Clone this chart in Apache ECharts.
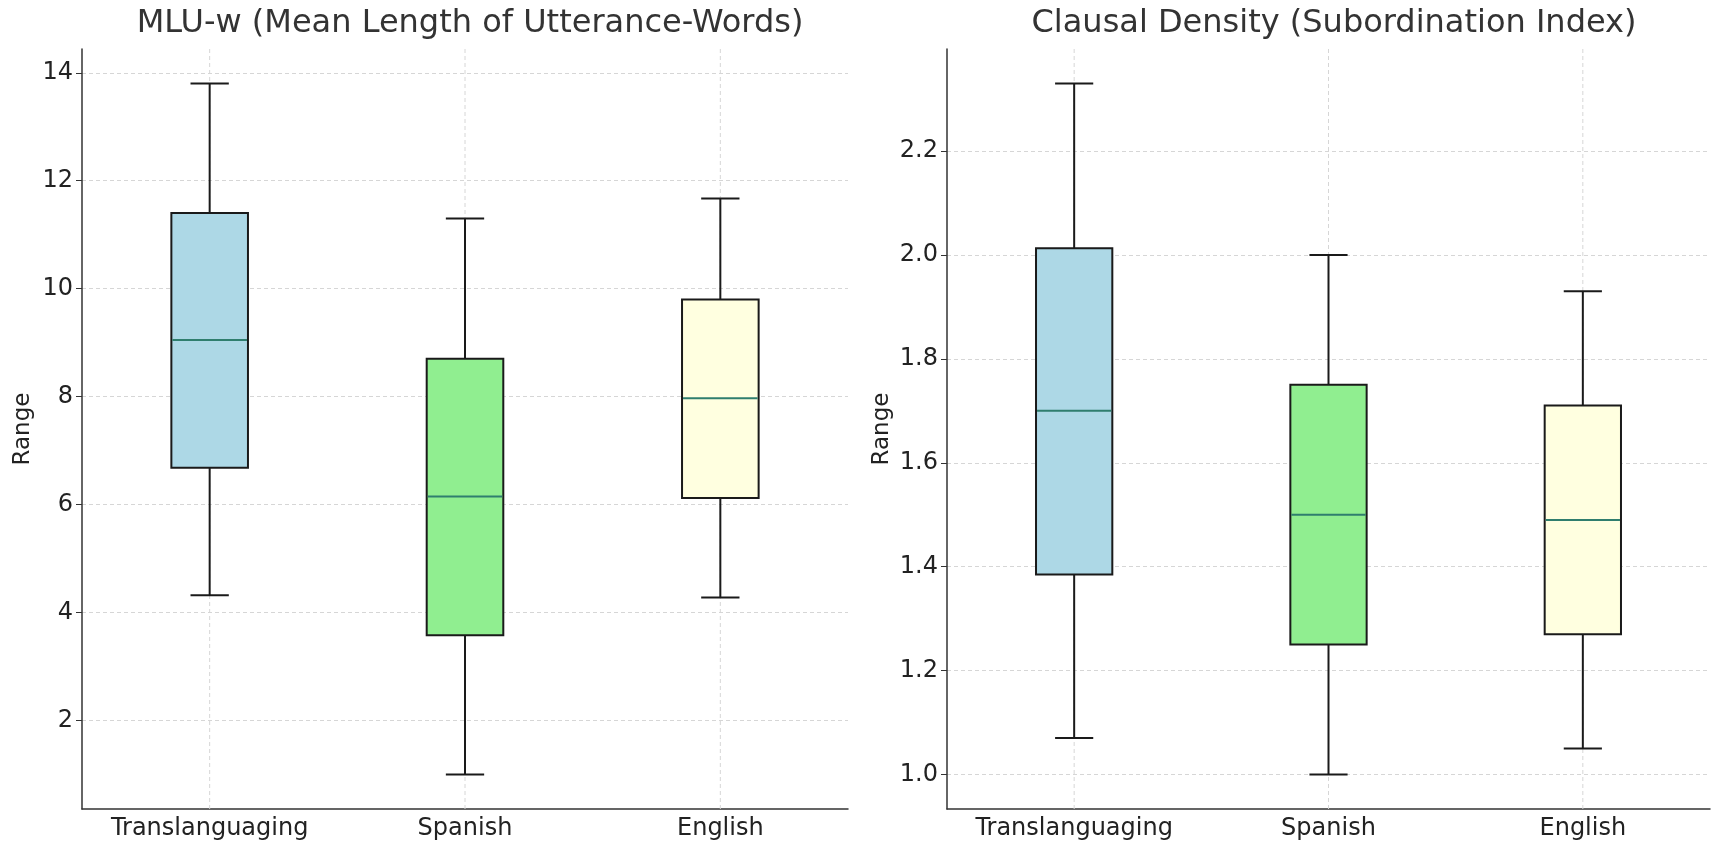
<!DOCTYPE html>
<html>
<head>
<meta charset="utf-8">
<script src="https://cdn.jsdelivr.net/npm/echarts@6/dist/echarts.min.js"></script>
<style>
  html, body { margin: 0; padding: 0; background: #fff; }
  #chart { width: 1711px; height: 845px; }
</style>
</head>
<body>
<div id="chart"></div>
<script>
// categories
const groups = ['Translanguaging', 'Spanish', 'English']
const fills = ['#ADD8E6', '#90EE90', '#FFFFE0']

// MLU-w: [low whisker, Q1, median, Q3, high whisker]
const mluTrans = [4.32, 6.68, 9.05, 11.4, 13.8]
const mluSpanish = [1.0, 3.58, 6.15, 8.7, 11.3]
const mluEnglish = [4.28, 6.12, 7.97, 9.8, 11.67]

// Clausal density
const cdTrans = [1.07, 1.385, 1.70, 2.013, 2.33]
const cdSpanish = [1.0, 1.25, 1.50, 1.75, 2.0]
const cdEnglish = [1.05, 1.27, 1.49, 1.71, 1.93]

const chart = echarts.init(document.getElementById('chart'))

const font = 'DejaVu Sans'
const axisColor = '#333'
const medianColor = '#2f7e6e'

// matplotlib style box: box 0.3 of band, caps half of box
const renderBox = (params, api) => {
  const idx = api.value(0)
  const lo = api.value(1), q1 = api.value(2), med = api.value(3), q3 = api.value(4), hi = api.value(5)
  const band = api.size([1, 0])[0]
  const bw = band * 0.3
  const cw = bw / 2
  const pLo = api.coord([idx, lo])
  const pQ1 = api.coord([idx, q1])
  const pMed = api.coord([idx, med])
  const pQ3 = api.coord([idx, q3])
  const pHi = api.coord([idx, hi])
  const x = pMed[0]
  const cs = params.coordSys
  const lineStyle = { stroke: '#1a1a1a', lineWidth: 2 }
  return {
    type: 'group',
    children: [
      { type: 'line', z2: 0, shape: { x1: x, y1: cs.y, x2: x, y2: cs.y + cs.height },
        style: { stroke: '#d6d6d6', lineWidth: 1, lineDash: [4, 3] } },
      { type: 'line', z2: 1, shape: { x1: x, y1: pHi[1], x2: x, y2: pQ3[1] }, style: lineStyle },
      { type: 'line', z2: 1, shape: { x1: x, y1: pLo[1], x2: x, y2: pQ1[1] }, style: lineStyle },
      { type: 'line', z2: 1, shape: { x1: x - cw / 2, y1: pHi[1], x2: x + cw / 2, y2: pHi[1] }, style: lineStyle },
      { type: 'line', z2: 1, shape: { x1: x - cw / 2, y1: pLo[1], x2: x + cw / 2, y2: pLo[1] }, style: lineStyle },
      { type: 'rect', z2: 2, shape: { x: x - bw / 2, y: pQ3[1], width: bw, height: pQ1[1] - pQ3[1] },
        style: { fill: fills[idx], stroke: '#1a1a1a', lineWidth: 2 } },
      { type: 'line', z2: 3, shape: { x1: x - bw / 2 + 1, y1: pMed[1], x2: x + bw / 2 - 1, y2: pMed[1] },
        style: { stroke: medianColor, lineWidth: 2 } }
    ]
  }
}

const toData = (rows) => rows.map((r, i) => [i, ...r])

const xAxisBase = (gridIndex) => ({
  type: 'category',
  gridIndex,
  data: groups,
  boundaryGap: true,
  axisLine: { lineStyle: { color: axisColor, width: 1.5 } },
  axisTick: { alignWithLabel: true, interval: 0, length: 6, lineStyle: { color: axisColor } },
  axisLabel: { color: '#222', fontFamily: font, fontSize: 24, margin: 8, interval: 0, hideOverlap: false },
  splitLine: { show: false }
})

const yAxisBase = (gridIndex, min, max, nameGap, digits) => ({
  type: 'value',
  gridIndex,
  min,
  max,
  splitNumber: 7,
  name: 'Range',
  nameLocation: 'middle',
  nameGap,
  nameTextStyle: { color: '#222', fontFamily: font, fontSize: 23 },
  axisLine: { show: true, lineStyle: { color: axisColor, width: 1.5 } },
  axisTick: { show: true, length: 6, lineStyle: { color: axisColor } },
  axisLabel: {
    color: '#222', fontFamily: font, fontSize: 24, margin: 9,
    showMinLabel: false, showMaxLabel: false,
    formatter: (v) => v.toFixed(digits)
  },
  splitLine: { show: true, showMinLine: false, showMaxLine: false, lineStyle: { color: '#d6d6d6', type: [4, 3] } }
})

const option = {
  animation: false,
  title: [
    { text: 'MLU-w (Mean Length of Utterance-Words)', left: 465, top: 3, textAlign: 'center',
      textStyle: { fontFamily: font, fontSize: 32, fontWeight: 'normal', color: '#333' } },
    { text: 'Clausal Density (Subordination Index)', left: 1329, top: 3, textAlign: 'center',
      textStyle: { fontFamily: font, fontSize: 32, fontWeight: 'normal', color: '#333' } }
  ],
  grid: [
    { left: 82, right: 863, top: 49, bottom: 36 },
    { left: 947, right: 1, top: 49, bottom: 36 }
  ],
  xAxis: [xAxisBase(0), xAxisBase(1)],
  yAxis: [
    yAxisBase(0, 0.36, 14.44, 47, 0),
    yAxisBase(1, 0.9335, 2.3965, 53, 1)
  ],
  series: [
    {
      type: 'custom',
      xAxisIndex: 0,
      yAxisIndex: 0,
      renderItem: renderBox,
      encode: { x: 0, y: [1, 2, 3, 4, 5] },
      data: toData([mluTrans, mluSpanish, mluEnglish])
    },
    {
      type: 'custom',
      xAxisIndex: 1,
      yAxisIndex: 1,
      renderItem: renderBox,
      encode: { x: 0, y: [1, 2, 3, 4, 5] },
      data: toData([cdTrans, cdSpanish, cdEnglish])
    }
  ]
}

chart.setOption(option)
</script>
</body>
</html>
